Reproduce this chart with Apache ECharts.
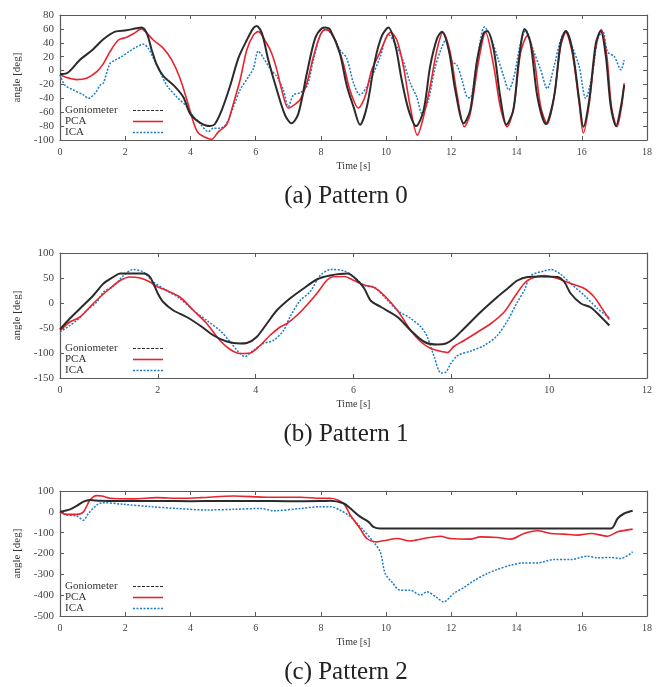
<!DOCTYPE html>
<html>
<head>
<meta charset="utf-8">
<script src="https://cdn.jsdelivr.net/npm/echarts@6/dist/echarts.min.js"></script>
<style>
html, body { margin: 0; padding: 0; background: #fff; }
#chartmain { width: 662px; height: 687px; }
</style>
</head>
<body>
<div id="chartmain"></div>
<script>
// series names and panel captions
var seriesNames = ['Goniometer', 'PCA', 'ICA'];
var captions = ['(a) Pattern 0', '(b) Pattern 1', '(c) Pattern 2'];

// axis ranges: [min, max, interval]
var xRanges = [[0, 18, 2], [0, 12, 2], [0, 18, 2]];
var yRanges = [[-100, 80, 20], [-150, 100, 50], [-500, 100, 100]];

// Pattern 0 : [time, angle]
var gonio0 = [[0,-5],[0.2,-4],[0.6,15],[1.0,30],[1.33,45],[1.69,56],[2.04,58],[2.35,61],[2.5,62],[2.66,54],[2.81,30],[2.97,8],[3.17,-8],[3.48,-21],[3.78,-38],[3.99,-62],[4.29,-75],[4.6,-80],[4.75,-77],[4.96,-57],[5.21,-23],[5.47,18],[5.73,44],[5.93,61],[6.03,64],[6.19,54],[6.39,15],[6.65,-28],[6.9,-64],[7.1,-76],[7.31,-62],[7.57,-4],[7.82,46],[8.03,61],[8.15,62],[8.28,59],[8.58,25],[8.79,-21],[9.0,-52],[9.2,-78],[9.41,-52],[9.66,15],[9.87,50],[10.07,62],[10.28,37],[10.48,-14],[10.69,-57],[10.92,-80],[11.15,-57],[11.35,6],[11.56,46],[11.71,56],[11.92,30],[12.12,-28],[12.38,-76],[12.58,-57],[12.79,15],[12.99,54],[13.1,57],[13.3,30],[13.5,-38],[13.69,-78],[13.9,-57],[14.07,15],[14.25,60],[14.43,39],[14.64,-38],[14.9,-77],[15.15,-38],[15.35,39],[15.51,57],[15.71,30],[15.92,-42],[16.05,-81],[16.23,-42],[16.43,39],[16.58,57],[16.74,20],[16.89,-52],[17.05,-80],[17.2,-52],[17.3,-21]];
var pca0 = [[0,-6],[0.2,-10],[0.51,-13],[0.82,-11],[1.12,-2],[1.33,10],[1.53,27],[1.79,44],[2.04,48],[2.25,53],[2.5,60],[2.66,54],[2.86,44],[3.17,32],[3.43,15],[3.68,-11],[3.89,-42],[4.09,-74],[4.24,-90],[4.5,-97],[4.65,-99],[4.86,-88],[5.11,-78],[5.32,-47],[5.52,-14],[5.73,30],[5.93,51],[6.08,56],[6.34,39],[6.49,25],[6.65,1],[6.8,-28],[7.0,-54],[7.16,-50],[7.36,-42],[7.57,-18],[7.77,20],[7.98,51],[8.13,59],[8.28,56],[8.48,39],[8.69,10],[8.89,-28],[9.15,-54],[9.35,-38],[9.56,1],[9.82,27],[10.02,49],[10.14,55],[10.33,44],[10.53,6],[10.74,-52],[10.96,-93],[11.15,-66],[11.35,-23],[11.56,30],[11.74,55],[11.97,25],[12.17,-33],[12.4,-81],[12.58,-62],[12.84,15],[13.05,55],[13.3,6],[13.5,-52],[13.71,-81],[13.92,-52],[14.12,25],[14.33,50],[14.53,20],[14.74,-52],[14.94,-77],[15.15,-38],[15.35,34],[15.51,55],[15.71,25],[15.92,-47],[16.05,-90],[16.23,-47],[16.43,34],[16.6,59],[16.77,20],[16.91,-52],[17.08,-81],[17.22,-52],[17.3,-18]];
var ica0 = [[0,-6],[0.15,-21],[0.41,-28],[0.72,-35],[0.87,-40],[1.07,-33],[1.23,-21],[1.33,-18],[1.53,10],[1.69,15],[1.89,20],[2.1,27],[2.35,34],[2.56,38],[2.71,32],[2.86,18],[3.07,-2],[3.27,-21],[3.58,-38],[3.89,-52],[4.09,-66],[4.29,-76],[4.55,-88],[4.7,-83],[4.91,-83],[5.11,-76],[5.32,-52],[5.52,-28],[5.78,-9],[5.93,3],[6.08,28],[6.24,18],[6.44,3],[6.65,-9],[6.85,-28],[7.0,-52],[7.16,-35],[7.36,-32],[7.57,-23],[7.77,15],[7.98,51],[8.16,59],[8.38,49],[8.58,30],[8.79,18],[9.0,-18],[9.2,-35],[9.41,-23],[9.61,-4],[9.82,20],[10.07,52],[10.33,34],[10.53,13],[10.74,-18],[10.94,-38],[11.1,-62],[11.3,-42],[11.51,6],[11.71,34],[11.82,44],[12.02,13],[12.17,8],[12.33,-14],[12.48,-38],[12.58,-39],[12.79,15],[13.02,63],[13.2,49],[13.41,20],[13.61,-9],[13.76,-28],[13.92,-9],[14.12,39],[14.28,58],[14.53,27],[14.74,1],[14.94,-26],[15.15,6],[15.35,44],[15.51,57],[15.71,34],[15.92,6],[16.12,-40],[16.33,-4],[16.48,44],[16.64,57],[16.79,27],[17.0,20],[17.2,1],[17.3,15]];

// Pattern 1
var gonio1 = [[0,-53],[0.2,-31],[0.41,-11],[0.68,15],[0.89,39],[1.09,52],[1.23,59],[1.5,59],[1.7,59],[1.84,52],[2.0,19],[2.11,2],[2.32,-15],[2.59,-28],[2.86,-45],[3.14,-65],[3.41,-77],[3.68,-81],[3.82,-80],[4.02,-68],[4.23,-41],[4.43,-15],[4.7,9],[4.98,29],[5.25,47],[5.52,55],[5.88,59],[6.08,45],[6.22,29],[6.35,5],[6.56,-8],[6.9,-28],[7.17,-55],[7.45,-78],[7.72,-83],[7.89,-81],[8.05,-71],[8.26,-51],[8.6,-18],[8.94,12],[9.15,29],[9.35,45],[9.56,52],[9.83,53],[10.17,52],[10.31,42],[10.44,19],[10.65,-1],[10.85,-9],[11.06,-28],[11.23,-45]];
var pca1 = [[0,-55],[0.2,-38],[0.41,-28],[0.61,-8],[0.82,12],[1.02,29],[1.23,45],[1.43,52],[1.64,50],[1.84,42],[1.98,33],[2.18,25],[2.45,12],[2.73,-15],[3.0,-41],[3.27,-75],[3.48,-93],[3.68,-101],[3.89,-100],[4.09,-85],[4.29,-65],[4.5,-48],[4.64,-41],[4.84,-25],[5.04,-5],[5.25,19],[5.45,45],[5.56,52],[5.81,53],[6.01,45],[6.22,36],[6.42,31],[6.63,15],[6.9,-15],[7.17,-55],[7.38,-78],[7.58,-91],[7.72,-95],[7.92,-99],[8.05,-87],[8.26,-75],[8.54,-58],[8.81,-41],[9.08,-18],[9.29,12],[9.49,39],[9.63,49],[9.9,55],[10.17,49],[10.44,39],[10.72,29],[10.92,12],[11.06,-8],[11.23,-33]];
var ica1 = [[0,-58],[0.2,-45],[0.34,-35],[0.55,-15],[0.75,2],[0.89,22],[1.09,33],[1.3,55],[1.5,67],[1.7,62],[1.91,42],[2.18,25],[2.45,9],[2.73,-15],[3.0,-35],[3.27,-55],[3.48,-78],[3.65,-98],[3.78,-107],[3.95,-95],[4.16,-81],[4.36,-75],[4.57,-55],[4.7,-28],[4.91,5],[5.11,22],[5.32,55],[5.54,67],[5.81,64],[6.01,52],[6.22,35],[6.42,32],[6.7,5],[6.9,-15],[7.17,-31],[7.38,-48],[7.51,-68],[7.65,-108],[7.79,-140],[7.89,-138],[7.99,-121],[8.13,-105],[8.4,-96],[8.67,-85],[8.94,-65],[9.15,-35],[9.35,2],[9.49,25],[9.63,55],[9.9,64],[10.04,67],[10.24,57],[10.44,39],[10.72,15],[10.99,-11],[11.23,-30]];

// Pattern 2
var gonio2 = [[0,0],[0.31,12],[0.51,28],[0.72,49],[0.92,57],[1.23,53],[2,52],[3,52],[4,51],[5,52],[6,52],[7,51],[8,52],[8.28,53],[8.69,41],[8.9,17],[9.2,-23],[9.46,-48],[9.61,-72],[9.82,-80],[11,-80],[12,-80],[13,-80],[14,-80],[15,-80],[16,-80],[16.9,-80],[17.1,-32],[17.3,-8],[17.56,5]];
var pca2 = [[0,0],[0.2,-12],[0.51,-12],[0.72,0],[0.92,57],[1.13,78],[1.28,76],[1.54,65],[2.26,62],[2.97,68],[3.69,65],[4.31,68],[5.33,76],[6.36,70],[7.38,70],[8.0,65],[8.28,65],[8.69,41],[8.9,-15],[9.2,-80],[9.41,-128],[9.71,-144],[10.02,-136],[10.33,-128],[10.74,-140],[11.15,-128],[11.66,-117],[11.97,-128],[12.58,-131],[12.89,-120],[13.41,-123],[13.82,-131],[14.23,-104],[14.64,-91],[15.05,-104],[15.46,-107],[15.87,-112],[16.28,-104],[16.79,-117],[17.1,-96],[17.56,-83]];
var ica2 = [[0,0],[0.2,-15],[0.51,-20],[0.72,-40],[0.87,-8],[1.13,33],[1.33,44],[1.95,36],[2.77,25],[3.59,16],[4.51,9],[5.33,12],[6.15,16],[6.56,5],[7.38,16],[8.0,25],[8.28,25],[8.58,9],[8.9,-23],[9.3,-88],[9.61,-144],[9.82,-192],[9.97,-296],[10.17,-336],[10.43,-376],[10.74,-376],[11.05,-400],[11.25,-384],[11.56,-412],[11.76,-433],[12.07,-392],[12.38,-364],[12.69,-331],[13.1,-296],[13.41,-277],[13.82,-256],[14.23,-245],[14.64,-245],[15.15,-229],[15.66,-229],[16.17,-213],[16.48,-221],[16.89,-219],[17.2,-224],[17.56,-192]];

var panels = [[gonio0, pca0, ica0], [gonio1, pca1, ica1], [gonio2, pca2, ica2]];

var serif = '"Liberation Serif", "DejaVu Serif", serif';
var frameColor = '#5a5a5a';
var lineStyles = {
    'Goniometer': { color: '#2b2b2b', width: 2, type: 'solid' },
    'PCA': { color: '#e8232d', width: 1.6, type: 'solid' },
    'ICA': { color: '#1c7cc6', width: 1.5, type: [2, 1.5] }
};
var gridTops = [15, 253, 491];
var gridH = 125;

var grids = [], xAxes = [], yAxes = [], series = [], legends = [], titles = [];
for (var p = 0; p < 3; p++) {
    grids.push({ left: 60, top: gridTops[p], width: 587, height: gridH });
    var xr = xRanges[p], yr = yRanges[p];
    var tick = { show: true, inside: true, length: 4, lineStyle: { color: frameColor } };
    var axLine = { show: true, onZero: false, lineStyle: { color: frameColor, width: 1.2 } };
    xAxes.push({
        type: 'value', gridIndex: p, min: xr[0], max: xr[1], interval: xr[2], position: 'bottom',
        axisLine: axLine, axisTick: tick, splitLine: { show: false },
        axisLabel: { margin: 7, fontFamily: serif, fontSize: 10, color: '#444' },
        name: 'Time [s]', nameLocation: 'middle', nameGap: 21,
        nameTextStyle: { fontFamily: serif, fontSize: 10, color: '#333' }
    });
    xAxes.push({
        type: 'value', gridIndex: p, min: xr[0], max: xr[1], interval: xr[2], position: 'top',
        axisLine: axLine, axisTick: tick, splitLine: { show: false }, axisLabel: { show: false }
    });
    yAxes.push({
        type: 'value', gridIndex: p, min: yr[0], max: yr[1], interval: yr[2], position: 'left',
        axisLine: axLine, axisTick: tick, splitLine: { show: false },
        axisLabel: { margin: 6, fontFamily: serif, fontSize: 11, color: '#444' },
        name: 'angle [deg]', nameLocation: 'middle', nameGap: 34,
        nameTextStyle: { fontFamily: serif, fontSize: 11, color: '#333' }
    });
    yAxes.push({
        type: 'value', gridIndex: p, min: yr[0], max: yr[1], interval: yr[2], position: 'right',
        axisLine: axLine, axisTick: tick, splitLine: { show: false }, axisLabel: { show: false }
    });
    for (var s = 0; s < 3; s++) {
        var nm = seriesNames[s];
        series.push({
            name: nm, type: 'line', xAxisIndex: p * 2, yAxisIndex: p * 2,
            data: panels[p][s], symbol: 'none', showSymbol: false, smooth: 0.3,
            lineStyle: lineStyles[nm], itemStyle: { color: lineStyles[nm].color },
            z: 3 - s, animation: false
        });
    }
    legends.push({
        orient: 'vertical', left: 65, top: gridTops[p] + 90, padding: 0, itemGap: 0,
        itemWidth: 30, itemHeight: 10, align: 'right', selectedMode: false,
        itemStyle: { opacity: 0, borderWidth: 0 },
        formatter: '{n|{name}}',
        textStyle: {
            fontFamily: serif, fontSize: 11, color: '#333', lineHeight: 10,
            rich: { n: { width: 63, align: 'left', fontFamily: serif, fontSize: 11, lineHeight: 10, color: '#333' } }
        },
        data: [
            { name: 'Goniometer', lineStyle: { type: [3, 1.5], width: 1.2 } },
            { name: 'PCA', lineStyle: { width: 1.6 } },
            { name: 'ICA', lineStyle: { width: 1.5 } }
        ]
    });
    titles.push({
        text: captions[p], left: 346, textAlign: 'center', top: gridTops[p] + gridH + 44, padding: 0,
        textStyle: { fontFamily: serif, fontSize: 25, fontWeight: 'normal', color: '#222' }
    });
}

var chart = echarts.init(document.getElementById('chartmain'), null, { renderer: 'canvas', width: 662, height: 687 });
chart.setOption({
    animation: false,
    backgroundColor: '#fff',
    title: titles,
    legend: legends,
    grid: grids,
    xAxis: xAxes,
    yAxis: yAxes,
    series: series
});
</script>
</body>
</html>
